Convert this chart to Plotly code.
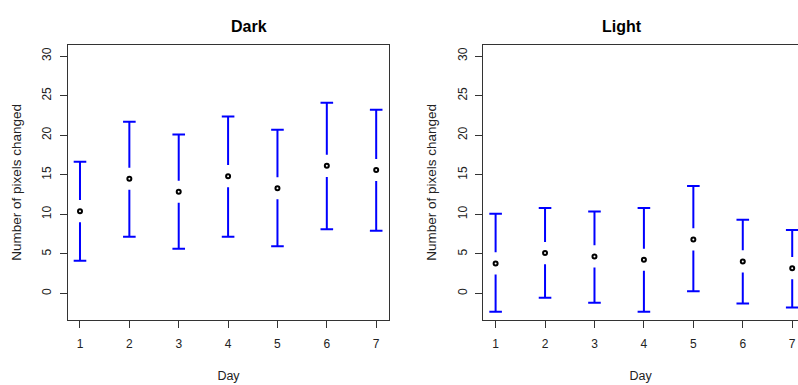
import plotly.graph_objects as go

# Daily summaries: mean and interval bounds of pixels changed
days = [1, 2, 3, 4, 5, 6, 7]

dark_mean = [10.4, 14.5, 12.85, 14.83, 13.3, 16.13, 15.6]
dark_lo = [4.13, 7.16, 5.65, 7.16, 5.98, 8.13, 7.92]
dark_hi = [16.65, 21.7, 20.1, 22.38, 20.69, 24.1, 23.22]

light_mean = [3.8, 5.1, 4.68, 4.26, 6.83, 4.05, 3.2]
light_lo = [-2.32, -0.55, -1.18, -2.32, 0.29, -1.26, -1.77]
light_hi = [10.07, 10.79, 10.37, 10.79, 13.57, 9.31, 8.01]

panel_titles = ["Dark", "Light"]
y_ticks = [0, 5, 10, 15, 20, 25, 30]

GAP = 1.4  # blank space around each mean point, in y units
BLUE = "#0000FF"
FONT = "Liberation Sans, Arial, sans-serif"

fig = go.Figure()


def add_panel(mean, lo, hi, xa, ya):
    xs, ys = [], []
    for d, m, l, h in zip(days, mean, lo, hi):
        xs += [d, d, None, d, d, None]
        ys += [h, m + GAP, None, m - GAP, l, None]
    fig.add_trace(go.Scatter(x=xs, y=ys, mode="lines", xaxis=xa, yaxis=ya,
                             line=dict(color=BLUE, width=2), hoverinfo="skip",
                             showlegend=False))
    fig.add_trace(go.Scatter(x=days + days, y=lo + hi, mode="markers",
                             xaxis=xa, yaxis=ya, showlegend=False,
                             marker=dict(symbol="line-ew", size=9, color=BLUE,
                                         line=dict(color=BLUE, width=2))))
    fig.add_trace(go.Scatter(x=days, y=mean, mode="markers", xaxis=xa, yaxis=ya,
                             showlegend=False,
                             marker=dict(symbol="circle-open", size=4, color="black",
                                         line=dict(color="black", width=2))))


add_panel(dark_mean, dark_lo, dark_hi, "x", "y")
add_panel(light_mean, light_lo, light_hi, "x2", "y2")

y_dom = [0.170, 0.883]
axis_font = dict(family=FONT, size=12, color="#222")

common_x = dict(tickmode="array", tickvals=days, ticks="outside", ticklen=7,
                tickcolor="#333", showgrid=False, zeroline=False, showline=True,
                linecolor="#333", linewidth=1, tickfont=axis_font,
                ticklabelstandoff=6,
                title=dict(text="Day", font=dict(family=FONT, size=12.5, color="#222"),
                           standoff=21))
common_y = dict(range=[-3.3, 31.4], tickmode="array", tickvals=y_ticks,
                ticks="outside", ticklen=7, tickcolor="#333", showgrid=False,
                zeroline=False, showline=True, linecolor="#333", linewidth=1,
                tickangle=-90, tickfont=axis_font, domain=y_dom,
                ticklabelstandoff=4,
                title=dict(text="Number of pixels changed",
                           font=dict(family=FONT, size=13.5, color="#222"),
                           standoff=15))

fig.update_layout(
    width=798, height=385,
    margin=dict(l=0, r=0, t=0, b=0),
    paper_bgcolor="white", plot_bgcolor="white",
    xaxis=dict(common_x, domain=[0.0852, 0.4875], range=[0.757, 7.26],
               mirror=True, anchor="y"),
    yaxis=dict(common_y, mirror=True, anchor="x"),
    xaxis2=dict(common_x, domain=[0.6057, 1.0], range=[0.752, 7.117],
                mirror=True, anchor="y2"),
    yaxis2=dict(common_y, anchor="x2"),
    annotations=[
        dict(text="<b>%s</b>" % panel_titles[0], x=228.5 / 798, y=1 - 16 / 385,
             xref="paper", yref="paper", showarrow=False,
             font=dict(family=FONT, size=16, color="black")),
        dict(text="<b>%s</b>" % panel_titles[1], x=644 / 798, y=1 - 16 / 385,
             xref="paper", yref="paper", showarrow=False,
             font=dict(family=FONT, size=16, color="black")),
    ],
)

fig.write_html("out.html")
